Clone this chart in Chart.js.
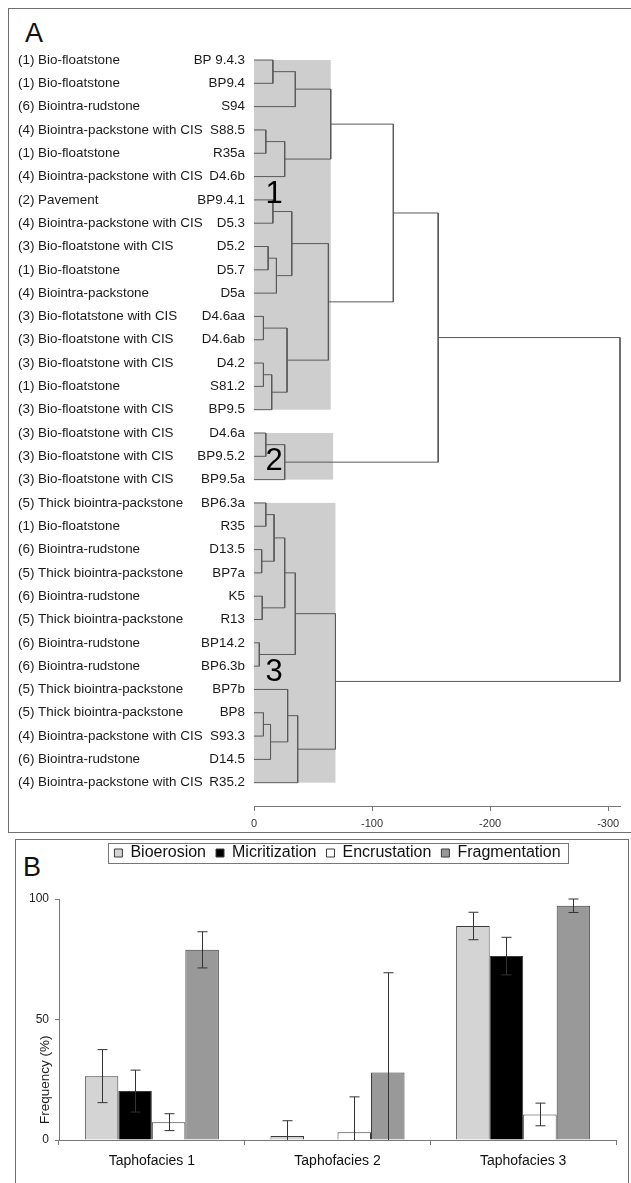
<!DOCTYPE html>
<html>
<head>
<meta charset="utf-8">
<script src="https://cdn.jsdelivr.net/npm/chart.js@4.4.1/dist/chart.umd.min.js"></script>
<style>
  body { margin: 0; width: 631px; height: 1183px; overflow: hidden; background: #fff; position: relative;
         font-family: "Liberation Sans", Arial, sans-serif; }
  .frame { position: absolute; border: 1px solid #6f6f6f; }
  #frameA { left: 8px; top: 8px; width: 640px; height: 823px; }
  #frameB { left: 15px; top: 839px; width: 612px; height: 400px; }
  .tag { position: absolute; font-size: 27px; line-height: 27px; color: #111; }
  canvas { position: absolute; }
</style>
</head>
<body>
<div class="frame" id="frameA"></div>
<div class="frame" id="frameB"></div>
<div class="tag" style="left:25px; top:20px;">A</div>
<div class="tag" style="left:23px; top:854px;">B</div>
<canvas id="tree" width="631" height="840" style="left:0; top:0;"></canvas>
<canvas id="bars" width="612" height="348" style="left:16px; top:835px;"></canvas>
<script>
const FONT = '"Liberation Sans", Arial, sans-serif';
Chart.defaults.font.family = FONT;

/* A: cluster tree */
const leafCodes = ['BP 9.4.3', 'BP9.4', 'S94', 'S88.5', 'R35a', 'D4.6b', 'BP9.4.1', 'D5.3', 'D5.2', 'D5.7',
  'D5a', 'D4.6aa', 'D4.6ab', 'D4.2', 'S81.2', 'BP9.5', 'D4.6a', 'BP9.5.2', 'BP9.5a', 'BP6.3a', 'R35',
  'D13.5', 'BP7a', 'K5', 'R13', 'BP14.2', 'BP6.3b', 'BP7b', 'BP8', 'S93.3', 'D14.5', 'R35.2'];
const leafFacies = ['(1) Bio-floatstone', '(1) Bio-floatstone', '(6) Biointra-rudstone',
  '(4) Biointra-packstone with CIS', '(1) Bio-floatstone', '(4) Biointra-packstone with CIS', '(2) Pavement',
  '(4) Biointra-packstone with CIS', '(3) Bio-floatstone with CIS', '(1) Bio-floatstone', '(4) Biointra-packstone',
  '(3) Bio-flotatstone with CIS', '(3) Bio-floatstone with CIS', '(3) Bio-floatstone with CIS', '(1) Bio-floatstone',
  '(3) Bio-floatstone with CIS', '(3) Bio-floatstone with CIS', '(3) Bio-floatstone with CIS',
  '(3) Bio-floatstone with CIS', '(5) Thick biointra-packstone', '(1) Bio-floatstone', '(6) Biointra-rudstone',
  '(5) Thick biointra-packstone', '(6) Biointra-rudstone', '(5) Thick biointra-packstone', '(6) Biointra-rudstone',
  '(6) Biointra-rudstone', '(5) Thick biointra-packstone', '(5) Thick biointra-packstone',
  '(4) Biointra-packstone with CIS', '(6) Biointra-rudstone', '(4) Biointra-packstone with CIS'];
// joins: node 32 onwards, children are leaf or earlier node numbers
const joinA = [0, 32, 3, 34, 33, 6, 8, 38, 37, 11, 13, 42, 41, 40, 36, 16, 47, 46,
  19, 21, 50, 23, 52, 25, 54, 28, 57, 27, 59, 56, 49];
const joinB = [1, 2, 4, 5, 35, 7, 9, 10, 39, 12, 14, 15, 43, 44, 45, 17, 18, 48,
  20, 22, 51, 24, 53, 26, 55, 29, 30, 58, 31, 60, 61];
const joinDist = [-16, -35, -10, -26, -65, -16, -12, -19, -32, -8, -8, -15, -28, -63, -118, -10, -26, -156,
  -10, -6.5, -17, -7, -26, -4.5, -35, -8, -14, -28.5, -37, -69, -310];
const clusterFirst = [0, 16, 19];
const clusterLast = [15, 18, 31];
const clusterReach = [-65, -67, -69];
const clusterNames = ['1', '2', '3'];
const distanceTicks = [0, -100, -200, -300];

const nodeY = leafCodes.map((_, i) => i);
const nodeX = leafCodes.map(() => 0);
const linkPoints = [];
joinDist.forEach((d, k) => {
  const a = joinA[k], b = joinB[k];
  linkPoints.push({ x: nodeX[a], y: nodeY[a] }, { x: d, y: nodeY[a] },
                  { x: d, y: nodeY[b] }, { x: nodeX[b], y: nodeY[b] }, { x: d, y: null });
  nodeY.push((nodeY[a] + nodeY[b]) / 2);
  nodeX.push(d);
});

const treeDecor = {
  id: 'treeDecor',
  beforeDatasetsDraw(chart) {
    const { ctx, scales: { x, y } } = chart;
    ctx.save();
    ctx.fillStyle = '#cecece';
    clusterFirst.forEach((f, k) => {
      const x0 = x.getPixelForValue(0), x1 = x.getPixelForValue(clusterReach[k]);
      const y0 = y.getPixelForValue(f), y1 = y.getPixelForValue(clusterLast[k]);
      ctx.fillRect(x0, y0, x1 - x0, y1 - y0);
    });
    ctx.restore();
  },
  afterDatasetsDraw(chart) {
    const { ctx, scales: { x, y } } = chart;
    ctx.save();
    ctx.fillStyle = '#1a1a1a';
    ctx.font = '13.4px ' + FONT;
    ctx.textBaseline = 'middle';
    leafCodes.forEach((code, i) => {
      const py = y.getPixelForValue(i);
      ctx.textAlign = 'left';
      ctx.fillText(leafFacies[i], 18, py);
      ctx.textAlign = 'right';
      ctx.fillText(code, 245, py);
    });
    // big cluster numbers
    const numberRows = [5.75, 17.2, 26.25];
    ctx.font = '31px ' + FONT;
    ctx.fillStyle = '#000';
    ctx.textAlign = 'center';
    clusterNames.forEach((n, k) => {
      ctx.fillText(n, x.getPixelForValue(-17), y.getPixelForValue(numberRows[k]));
    });
    ctx.restore();
  }
};

new Chart(document.getElementById('tree'), {
  type: 'scatter',
  data: {
    datasets: [{
      data: linkPoints,
      showLine: true,
      borderColor: '#5a5a5a',
      borderWidth: 1,
      pointRadius: 0,
      pointHoverRadius: 0,
      tension: 0,
      clip: false
    }]
  },
  options: {
    responsive: false,
    animation: false,
    events: [],
    layout: { padding: { left: 254, right: 11, top: 36.7, bottom: 4 } },
    plugins: { legend: { display: false }, tooltip: { enabled: false } },
    scales: {
      x: {
        type: 'linear',
        reverse: true,
        min: -310,
        max: 0,
        afterBuildTicks: s => { s.ticks = distanceTicks.map(v => ({ value: v })); },
        afterFit: s => { s.height = 30; },
        grid: { drawOnChartArea: false, tickLength: 5, color: '#777' },
        border: { color: '#777' },
        ticks: { padding: 6, color: '#333', font: { size: 11 }, callback: v => String(v) }
      },
      y: { type: 'linear', display: false, reverse: true, min: -1, max: 32 }
    }
  },
  plugins: [treeDecor]
});

/* B: taphonomic signatures */
const facies = ['Taphofacies 1', 'Taphofacies 2', 'Taphofacies 3'];
const bioerosion = [26.5, 1.7, 88.8];
const bioerosionErr = [11, 6.3, 5.7];
const micritization = [20.3, 0, 76.3];
const micritizationErr = [8.7, 0, 7.8];
const encrustation = [7.4, 3.2, 10.6];
const encrustationErr = [3.5, 14.7, 4.7];
const fragmentation = [78.9, 28, 97.2];
const fragmentationErr = [7.5, 41.4, 2.8];
const freqTicks = [0, 50, 100];

const legendGap = {
  id: 'legendGap',
  beforeInit(chart) {
    const fit = chart.legend.fit;
    chart.legend.fit = function () { fit.call(this); this.height += 28; };
  }
};

const errorBars = {
  id: 'errorBars',
  afterDatasetsDraw(chart) {
    const { ctx, scales: { y } } = chart;
    ctx.save();
    ctx.strokeStyle = '#333';
    ctx.lineWidth = 1;
    chart.data.datasets.forEach((ds, di) => {
      chart.getDatasetMeta(di).data.forEach((bar, i) => {
        const v = ds.data[i], e = ds.err[i];
        if (!e) return;
        const px = Math.round(bar.x) + 0.5;
        const top = y.getPixelForValue(v + e);
        const lo = Math.max(0, v - e);
        const bot = y.getPixelForValue(lo);
        ctx.beginPath();
        ctx.moveTo(px, top); ctx.lineTo(px, bot);
        ctx.moveTo(px - 5, top); ctx.lineTo(px + 5, top);
        if (lo > 0) { ctx.moveTo(px - 5, bot); ctx.lineTo(px + 5, bot); }
        ctx.stroke();
      });
    });
    ctx.restore();
  }
};

const barDecor = {
  id: 'barDecor',
  afterDraw(chart) {
    const { ctx, chartArea, scales: { y } } = chart;
    const hb = chart.legend.legendHitBoxes;
    ctx.save();
    // legend frame
    const last = hb[hb.length - 1];
    ctx.strokeStyle = '#777';
    ctx.lineWidth = 1;
    ctx.strokeRect(Math.round(hb[0].left - 6) + 0.5, Math.round(hb[0].top - 2) + 0.5,
                   Math.round(last.left + last.width + 14 - hb[0].left), 20);
    // y axis title
    ctx.translate(chartArea.left - 14, y.getPixelForValue(25));
    ctx.rotate(-Math.PI / 2);
    ctx.fillStyle = '#1a1a1a';
    ctx.font = '13.5px ' + FONT;
    ctx.textAlign = 'center';
    ctx.textBaseline = 'middle';
    ctx.fillText('Frequency (%)', 0, 0);
    ctx.restore();
  }
};

const barStyle = { borderColor: '#3a3a3a', borderWidth: 1 };

new Chart(document.getElementById('bars'), {
  type: 'bar',
  data: {
    labels: facies,
    datasets: [
      { label: 'Bioerosion', data: bioerosion, err: bioerosionErr, backgroundColor: '#d4d4d4', ...barStyle },
      { label: 'Micritization', data: micritization, err: micritizationErr, backgroundColor: '#000', ...barStyle },
      { label: 'Encrustation', data: encrustation, err: encrustationErr, backgroundColor: '#fff', ...barStyle },
      { label: 'Fragmentation', data: fragmentation, err: fragmentationErr, backgroundColor: '#999', ...barStyle }
    ]
  },
  options: {
    responsive: false,
    animation: false,
    events: [],
    categoryPercentage: 0.722,
    barPercentage: 1,
    layout: { padding: { left: 0, right: 12, top: 0, bottom: 0 } },
    plugins: {
      tooltip: { enabled: false },
      legend: {
        position: 'top',
        fullSize: false,
        labels: { boxWidth: 8, boxHeight: 8, padding: 10, color: '#111', font: { size: 16 } }
      }
    },
    scales: {
      x: {
        afterFit: s => { s.height = 43; },
        grid: { drawOnChartArea: false, tickLength: 5, color: '#777' },
        border: { color: '#777' },
        ticks: { padding: 8, color: '#111', font: { size: 14 } }
      },
      y: {
        min: 0,
        max: 100,
        afterBuildTicks: s => { s.ticks = freqTicks.map(v => ({ value: v })); },
        afterFit: s => { s.width = 43; },
        grid: { drawOnChartArea: false, tickLength: 4, color: '#777' },
        border: { color: '#777' },
        ticks: { padding: 6, color: '#222', font: { size: 12 } }
      }
    }
  },
  plugins: [legendGap, errorBars, barDecor]
});
</script>
</body>
</html>
